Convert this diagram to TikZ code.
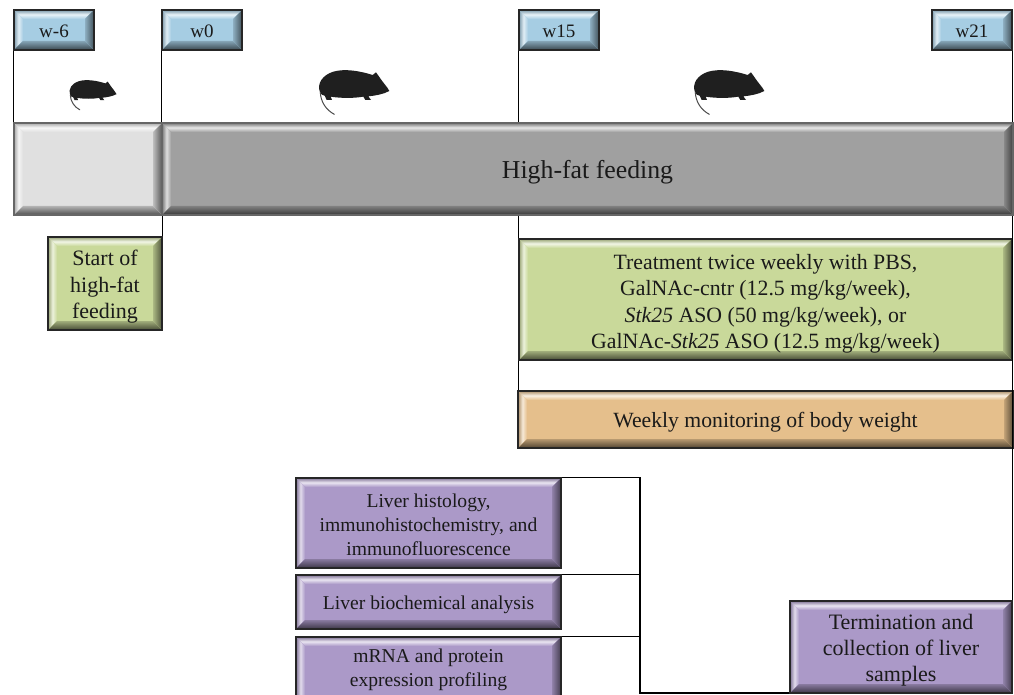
\documentclass[tikz,border=0pt]{standalone}
\usepackage{fontspec}
\setmainfont{Liberation Serif}
\usetikzlibrary{calc}
\definecolor{tick}{HTML}{A6CDE3}
\definecolor{greybar}{HTML}{A0A0A0}
\definecolor{palebar}{HTML}{E0E0E0}
\definecolor{greenbox}{HTML}{C9D99A}
\definecolor{orangebox}{HTML}{E5BF8C}
\definecolor{purplebox}{HTML}{AB99C8}
\definecolor{ink}{HTML}{1A1A1A}
\newcommand{\bevelpaint}[2]{%
  \path (path picture bounding box.north west) coordinate (o1)
        (path picture bounding box.north east) coordinate (o2)
        (path picture bounding box.south east) coordinate (o3)
        (path picture bounding box.south west) coordinate (o4);
  \path ($(o1)+(#2,#2)$) coordinate (i1) ($(o2)+(-#2,#2)$) coordinate (i2)
        ($(o3)+(-#2,-#2)$) coordinate (i3) ($(o4)+(#2,-#2)$) coordinate (i4);
  \fill[top color=#1!75!black,bottom color=#1,middle color=#1!25!white] (o1)--(o2)--(i2)--(i1)--cycle;
  \fill[left color=#1!75!black,right color=#1,middle color=#1!35!white] (o1)--(i1)--(i4)--(o4)--cycle;
  \fill[left color=#1!85!black,right color=#1!40!black] (o2)--(i2)--(i3)--(o3)--cycle;
  \fill[top color=#1!80!black,bottom color=#1!35!black] (o4)--(i4)--(i3)--(o3)--cycle;
}
\tikzset{
  bevelbox/.style={rectangle,draw=black!85,line width=1.6pt,inner sep=0pt,align=center,
    text=ink,fill=#1,path picture={\bevelpaint{#1}{9}}},
  barbox/.style={bevelbox=#1,draw=black!60,line width=2pt},
  link/.style={draw=black,line width=1.3pt},
  rodent/.style={fill=black!88,draw=none},
  tail/.style={draw=black!70,line width=1pt,line cap=round}
}
% \placebox[style]{name}{x1}{y1}{x2}{y2}{font size}{line height}{text}
\newcommand{\placebox}[9][]{%
  \pgfmathsetmacro{\bw}{#5-#3}\pgfmathsetmacro{\bh}{#6-#4}%
  \node[#1,font=\fontsize{#7}{#8}\selectfont,minimum width=\bw pt,minimum height=\bh pt] (#2) at ({(#3+#5)/2},{(#4+#6)/2}) {#9};}
% lines of text, their block moved down by #1 from the box centre
\newcommand{\lines}[2][3.2pt]{\raisebox{\dimexpr-0.25em-#1\relax}[0pt][0pt]{\begin{tabular}{@{}c@{}}#2\end{tabular}}}
\newcommand{\mouse}[3]{%
  \begin{scope}[shift={(#1,#2)},x=#3pt/3,y=-#3pt/3]
    \fill[rodent] (60,112) .. controls (50,85) and (68,60) .. (100,50)
      .. controls (135,40) and (180,48) .. (218,60)
      -- (228,52) -- (238,66)
      .. controls (250,85) and (262,95) .. (268,108)
      .. controls (250,118) and (225,122) .. (205,124)
      -- (213,135) -- (196,135) -- (190,125)
      .. controls (160,130) and (125,130) .. (92,125)
      -- (96,135) -- (80,135) -- (74,122) .. controls (68,122) and (63,118) .. (60,112) -- cycle;
    \draw[tail] (61,112) .. controls (62,140) and (78,165) .. (103,178);
  \end{scope}}
\begin{document}
\begin{tikzpicture}[x=1pt,y=-1pt]
\useasboundingbox (0,0) rectangle (1014,695);
\clip (0,0) rectangle (1014,695);
\fill[white] (0,0) rectangle (1014,695);

\placebox[bevelbox=tick]{w6}{14}{10}{94}{50}{19}{22}{\lines[2.2pt]{w-6}}
\placebox[bevelbox=tick]{w0}{162}{10}{242}{50}{19}{22}{\lines[2.2pt]{w0}}
\placebox[bevelbox=tick]{w15}{519}{10}{599}{50}{19}{22}{\lines[2.2pt]{w15}}
\placebox[bevelbox=tick]{w21}{932}{10}{1012}{50}{19}{22}{\lines[2.2pt]{w21}}

\placebox[barbox=palebar]{lead}{14}{123}{162}{215}{17}{20}{}
\placebox[barbox=greybar]{feed}{162}{123}{1013}{215}{25.8}{30}{\lines{High-fat feeding}}

\placebox[bevelbox=greenbox]{start}{48}{237}{162}{330}{22}{26.4}{\lines{Start of\\high-fat\\feeding}}
\placebox[bevelbox=greenbox]{treat}{519}{239}{1012}{360}{21.8}{26.4}{\lines[4pt]{Treatment twice weekly with PBS,\\GalNAc-cntr (12.5 mg/kg/week),\\\textit{Stk25} ASO (50 mg/kg/week), or\\GalNAc-\textit{Stk25} ASO (12.5 mg/kg/week)}}
\placebox[bevelbox=orangebox]{weigh}{518}{391}{1013}{448}{21.7}{26}{\lines[2.2pt]{Weekly monitoring of body weight}}

\placebox[bevelbox=purplebox]{histo}{296}{478}{561}{568}{19.6}{24}{\lines[3.8pt]{Liver histology,\\immunohistochemistry, and\\immunofluorescence}}
\placebox[bevelbox=purplebox]{bioch}{296}{575}{561}{629}{19.6}{24}{\lines{Liver biochemical analysis}}
\placebox[bevelbox=purplebox]{mrna}{296}{637}{561}{705}{19.6}{24}{\lines[-1pt]{mRNA and protein\\expression profiling}}
\placebox[bevelbox=purplebox]{term}{790}{601}{1012}{693}{22}{26.2}{\lines{Termination and\\collection of liver\\samples}}

\coordinate (j1) at (640,478);
\coordinate (j2) at (640,574);
\coordinate (j3) at (640,637);
\coordinate (j4) at (640,693);

\draw[link] (w6.south west) -- (w6.south west |- lead.north);
\draw[link] (w0.south west) -- (w0.south west |- lead.north);
\draw[link] (start.north east |- lead.south) -- (start.north east);
\draw[link] (w15.south west) -- (w15.south west |- feed.north);
\draw[link] (w15.south west |- feed.south) -- (treat.north west);
\draw[link] (treat.south west) -- (treat.south west |- weigh.north);
\draw[link] (w21.south east) -- (w21.south east |- feed.north);
\draw[link] (w21.south east |- feed.south) -- (term.north east);
\draw[link] (histo.north east) -- (histo.north east -| j1);
\draw[link] (bioch.north east) -- (bioch.north east -| j2);
\draw[link] (mrna.north east) -- (mrna.north east -| j3);
\draw[link] (histo.north east -| j1) -- (j4) -- (j4 -| term.west);

\mouse{56.7}{70}{0.67}
\mouse{300}{55}{1}
\mouse{675}{55}{1}
\end{tikzpicture}
\end{document}
